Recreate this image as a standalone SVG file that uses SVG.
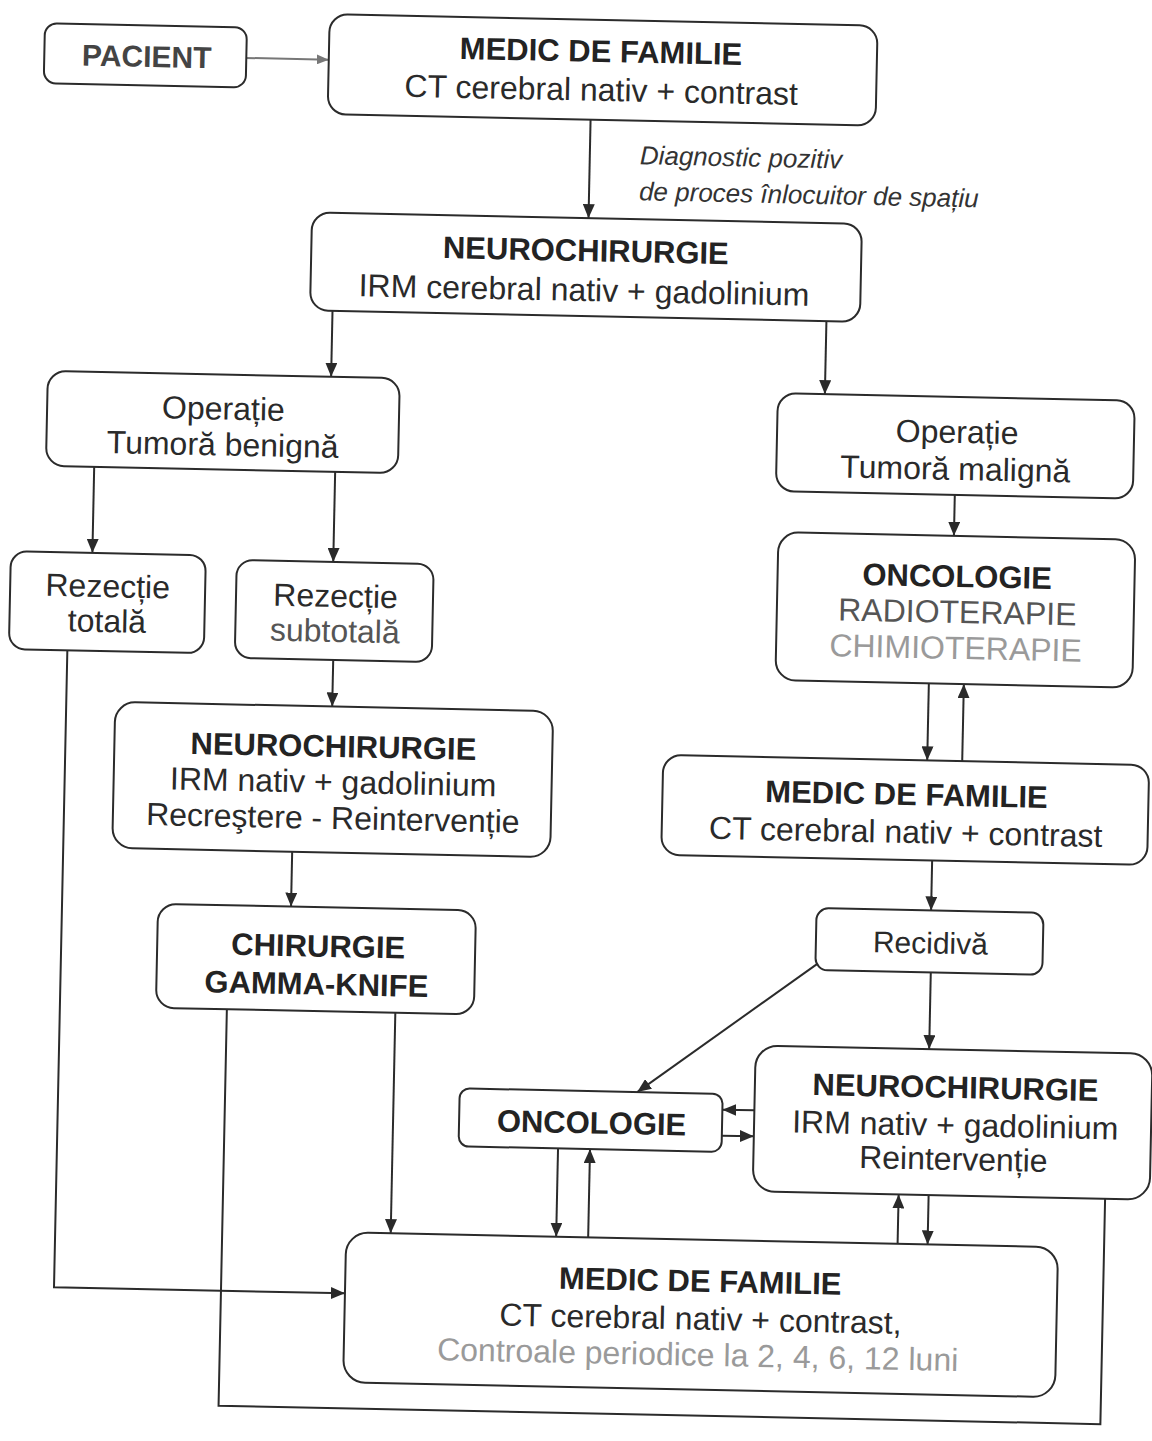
<svg xmlns="http://www.w3.org/2000/svg" width="1152" height="1441" viewBox="0 0 1152 1441">
  <defs>
    <marker id="ah" viewBox="0 0 14 12" refX="14" refY="6" markerWidth="14" markerHeight="12" markerUnits="userSpaceOnUse" orient="auto">
      <path d="M0,0 L14,6 L0,12 z" fill="#2a2a2a"/>
    </marker>
    <marker id="ahg" viewBox="0 0 12 10" refX="12" refY="5" markerWidth="12" markerHeight="10" markerUnits="userSpaceOnUse" orient="auto">
      <path d="M0,0 L12,5 L0,10 z" fill="#777"/>
    </marker>
    <style>
      .box { fill: #fff; stroke: #2b2b2b; stroke-width: 2; }
      .t { font-family: "Liberation Sans", Arial, sans-serif; font-size: 32px; fill: #2a2a2a; text-anchor: middle; }
      .b { font-weight: bold; font-size: 31px; fill: #232323; }
      .faint { fill: #9a9a9a; }
      .mid { fill: #555; }
      .lbl { font-family: "Liberation Sans", Arial, sans-serif; font-size: 26px; font-style: italic; fill: #333; }
      .ln { fill: none; stroke: #2b2b2b; stroke-width: 2; }
      .arr { marker-end: url(#ah); }
    </style>
  </defs>
  <rect width="1152" height="1441" fill="#fff"/>

  <!-- the whole chart sits slightly tilted on the page -->
  <g transform="rotate(1.2 576 720)">

    <g id="connectors">
      <path class="ln" d="M231.5 65 H315" stroke="#777" style="stroke:#777" marker-end="url(#ahg)"/>
      <path class="ln arr" d="M578 119.5 V218"/>
      <path class="ln arr" d="M324 316 V382"/>
      <path class="ln arr" d="M818 316 V389"/>
      <path class="ln arr" d="M89 477 V563"/>
      <path class="ln arr" d="M330 477 V567"/>
      <path class="ln arr" d="M950 487 V528"/>
      <path class="ln arr" d="M332 665 V711.6"/>
      <path class="ln arr" d="M928 676 V753"/>
      <path class="ln arr" d="M963 753 V676"/>
      <path class="ln arr" d="M935 853 V903"/>
      <path class="ln arr" d="M295 857.6 V912.5"/>
      <path class="ln arr" d="M936 965 V1041.6"/>
      <path class="ln arr" d="M822 959 L645 1090.7"/>
      <path class="ln arr" d="M762.5 1106.5 H730.5"/>
      <path class="ln arr" d="M730.5 1132.5 H762.5"/>
      <path class="ln arr" d="M567 1148.7 V1237"/>
      <path class="ln arr" d="M599 1237 V1148.7"/>
      <path class="ln arr" d="M908.5 1237 V1187.6"/>
      <path class="ln arr" d="M938.5 1187.6 V1237"/>
      <path class="ln arr" d="M401.5 1016.5 V1237"/>
      <path class="ln arr" d="M66 661 V1298 H357"/>
      <path class="ln" d="M233 1016.5 V1413 H1115 V1187.6"/>
      <text class="lbl" x="628" y="163">Diagnostic pozitiv</text>
      <text class="lbl" x="628" y="199">de proces înlocuitor de spațiu</text>
    </g>

    <g id="pacient">
      <rect class="box" x="30.5" y="34.5" width="202" height="60" rx="12"/>
      <text class="t b" x="133" y="76" style="fill:#444;font-size:30px">PACIENT</text>
    </g>

    <g id="medic-familie-1">
      <rect class="box" x="315" y="19.5" width="548" height="100" rx="18"/>
      <text class="t b" x="587" y="61.5">MEDIC DE FAMILIE</text>
      <text class="t" x="588" y="100.5">CT cerebral nativ + contrast</text>
    </g>

    <g id="neurochirurgie-1">
      <rect class="box" x="301.5" y="218" width="550" height="98" rx="18"/>
      <text class="t b" x="576" y="261">NEUROCHIRURGIE</text>
      <text class="t" x="575" y="301">IRM cerebral nativ + gadolinium</text>
    </g>

    <g id="operatie-benigna">
      <rect class="box" x="40.7" y="382" width="352" height="95" rx="18"/>
      <text class="t" x="217" y="427">Operație</text>
      <text class="t" x="217" y="463">Tumoră benignă</text>
    </g>

    <g id="operatie-maligna">
      <rect class="box" x="771" y="389" width="357" height="98" rx="18"/>
      <text class="t" x="951" y="435">Operație</text>
      <text class="t" x="950" y="472">Tumoră malignă</text>
    </g>

    <g id="rezectie-totala">
      <rect class="box" x="7.5" y="563" width="195" height="98" rx="16"/>
      <text class="t" x="105" y="607">Rezecție</text>
      <text class="t" x="105" y="642">totală</text>
    </g>

    <g id="rezectie-subtotala">
      <rect class="box" x="233.5" y="567" width="197" height="98" rx="16"/>
      <text class="t" x="333" y="612">Rezecție</text>
      <text class="t mid" x="333" y="647">subtotală</text>
    </g>

    <g id="oncologie-1">
      <rect class="box" x="774.5" y="528" width="357" height="148" rx="20"/>
      <text class="t b" x="954" y="579">ONCOLOGIE</text>
      <text class="t mid" x="955" y="615">RADIOTERAPIE</text>
      <text class="t faint" x="954" y="651">CHIMIOTERAPIE</text>
    </g>

    <g id="neurochirurgie-2">
      <rect class="box" x="115" y="711.6" width="438" height="146" rx="20"/>
      <text class="t b" x="334" y="762">NEUROCHIRURGIE</text>
      <text class="t" x="334.5" y="798">IRM nativ + gadolinium</text>
      <text class="t" x="335" y="834">Recreştere - Reintervenție</text>
    </g>

    <g id="medic-familie-2">
      <rect class="box" x="664" y="753" width="486" height="100" rx="18"/>
      <text class="t b" x="908" y="798">MEDIC DE FAMILIE</text>
      <text class="t" x="908" y="836">CT cerebral nativ + contrast</text>
    </g>

    <g id="chirurgie-gamma-knife">
      <rect class="box" x="162" y="912.5" width="318" height="104" rx="18"/>
      <text class="t b" x="323" y="962">CHIRURGIE</text>
      <text class="t b" x="322" y="1000">GAMMA-KNIFE</text>
    </g>

    <g id="recidiva">
      <rect class="box" x="820.5" y="903" width="227" height="62" rx="12"/>
      <text class="t" x="935" y="946" style="font-size:30px">Recidivă</text>
    </g>

    <g id="neurochirurgie-3">
      <rect class="box" x="762.5" y="1041.6" width="397" height="146" rx="22"/>
      <text class="t b" x="963" y="1090">NEUROCHIRURGIE</text>
      <text class="t" x="963.7" y="1128">IRM nativ + gadolinium</text>
      <text class="t" x="962.5" y="1162">Reintervenție</text>
    </g>

    <g id="oncologie-2">
      <rect class="box" x="467.5" y="1090.7" width="263" height="58" rx="10"/>
      <text class="t b" x="600" y="1133">ONCOLOGIE</text>
    </g>

    <g id="medic-familie-3">
      <rect class="box" x="357" y="1237" width="712" height="150" rx="22"/>
      <text class="t b" x="712" y="1289">MEDIC DE FAMILIE</text>
      <text class="t" x="713" y="1327">CT cerebral nativ + contrast,</text>
      <text class="t faint" x="711" y="1363">Controale periodice la 2, 4, 6, 12 luni</text>
    </g>

  </g>
</svg>
